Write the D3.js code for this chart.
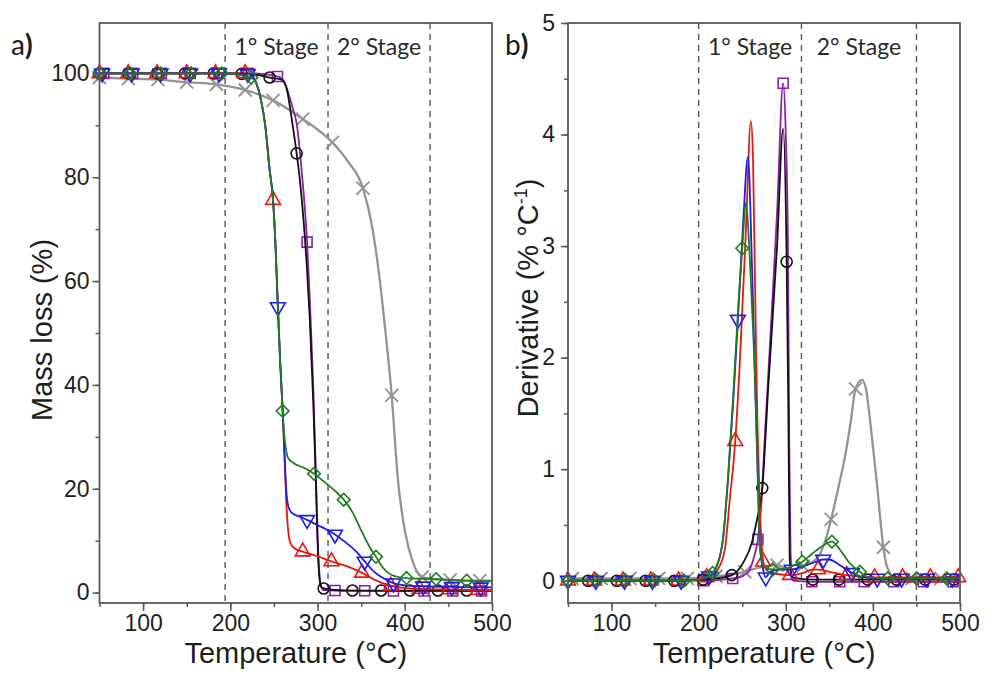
<!DOCTYPE html>
<html>
<head>
<meta charset="utf-8">
<script src="https://cdn.jsdelivr.net/npm/d3@7"></script>
<style>
  body { margin: 0; background: #fff; }
  svg { display: block; }
</style>
</head>
<body>
<svg id="chart" width="987" height="675"></svg>
<script>
// ---------- data ----------
// x ticks / y ticks
var tempTicks = [100, 200, 300, 400, 500];
var massTicks = [0, 20, 40, 60, 80, 100];
var derivTicks = [0, 1, 2, 3, 4, 5];
var stageNames = ["1° Stage", "2° Stage"];
var massStageLines = [194, 312, 429];
var derivStageLines = [200, 318, 450];

// a) mass loss curves [temperature, %]
var massBlack = [[50,100],[83,100],[116,100],[148,100],[181,100],[213,99.9],[230,99.7],[245,99.2],[259,98.8],[265,96.7],[271,90.5],[276,84.6],[280,79],[288,62],[291,53],[295,37],[298,22],[300,10],[302,3],[304,1.2],[307,0.8],[320,0.5],[340,0.4],[373,0.4],[406,0.4],[438,0.4],[471,0.4],[500,0.4]];
var massPurple = [[50,100],[55,100],[88,100],[121,100],[154,100],[187,100],[221,100],[240,99.8],[254,99.4],[258,99.1],[263,98],[268,95.4],[272,93],[276,90.4],[282,80.8],[288,67.5],[291,57],[295,40],[298,23],[300,11],[302,4],[304,1.2],[307,0.5],[320,0.4],[354,0.35],[387,0.3],[422,0.3],[455,0.3],[488,0.3],[500,0.3]];
var massRed = [[50,100],[83,100],[116,100],[150,100],[183,100],[217,100],[225,99.5],[230,98],[235,95],[240,90],[245,81.5],[249,75.6],[252,66],[254.5,55],[257,45],[260,35],[262,27],[264,18],[266,12.5],[269,9.5],[274,8.5],[283,7.9],[300,7],[316,6],[335,5],[351,3.8],[365,2.5],[384,1.3],[400,0.9],[417,0.7],[451,0.6],[484,0.5],[500,0.5]];
var massBlue = [[50,100],[53,100],[87,100],[120,100],[154,100],[187,100],[220,99.9],[225,99.5],[230,98],[235,95],[240,90],[245,81.5],[249,75.6],[252,66],[254.5,55],[257,45],[260,35],[262,27],[264,20],[266,17],[270,15.4],[280,14.6],[288,14],[300,13],[310,12.2],[320,11.2],[335,9.3],[345,7.8],[354,6],[365,4],[375,2.8],[387,1.8],[400,1.4],[421,1.2],[454,1.1],[487,1],[500,1]];
var massGreen = [[50,100],[85,100],[120,100],[155,100],[190,100],[224,99.2],[230,98],[235,95],[240,90],[245,81.5],[249,75.6],[252,66],[254.5,55],[257,45],[260,35],[262,30],[264,27.5],[266,26],[272,25],[285,24],[296,22.9],[310,21],[320,19.6],[330,17.9],[340,15.5],[350,12],[360,8.7],[367,6.9],[375,4.8],[385,3.4],[402,2.8],[436,2.6],[471,2.3],[500,2.2]];
var massGray = [[50,99.2],[83,99],[117,98.8],[150,98.3],[184,97.9],[217,96.8],[249,94.8],[283,91.2],[317,86.7],[335,83],[352,77.9],[362,71],[370,62],[378,50],[385,38],[392,22],[400,12],[409,6],[416,3.5],[420,3],[440,2.5],[452,2.4],[486,2.3],[500,2.3]];

// temperatures where a) markers sit
var massBlackMarks = [50,83,116,148,181,213,245,276,307,340,373,406,438,471];
var massPurpleMarks = [55,88,121,154,187,221,254,288,320,354,387,422,455,488];
var massRedMarks = [50,83,116,150,183,217,249,283,316,351,384,417,451,484];
var massBlueMarks = [53,87,120,154,187,220,254.5,288,320,354,387,421,454,487];
var massGreenMarks = [50,85,120,155,190,224,260,296,330,367,402,436,471];
var massGrayMarks = [50,83,117,150,184,217,249,283,317,352,385,420,452,486];

// b) derivative curves [temperature, % / °C]
var derivBlack = [[50,0],[73,0],[106,0],[139,0],[172,0],[205,0.01],[220,0.02],[238,0.05],[251,0.16],[261,0.34],[267,0.55],[273,0.83],[280,1.75],[290,3.0],[297,4.05],[301,2.86],[303,1.5],[304.5,0.2],[307,0.03],[331,0.01],[361,0.01],[394,0.01],[427,0.01],[460,0.01],[493,0.01],[500,0.01]];
var derivPurple = [[50,0],[78,0],[111,0],[144,0],[175,0],[205,0],[239,0.02],[250,0.04],[258,0.09],[263,0.2],[268,0.37],[272,0.7],[276,1.3],[281,2.0],[290,3.3],[297,4.46],[300,4.0],[302.5,3.0],[304,1.2],[305.5,0.25],[308,0],[330,-0.01],[362,-0.01],[390,-0.01],[424,-0.01],[458,-0.01],[492,-0.01],[500,-0.01]];
var derivRed = [[50,0],[80,0],[113,0],[145,0],[177,0],[209,0.03],[215,0.05],[222,0.1],[230,0.28],[236,0.75],[242,1.25],[247.5,2.0],[254,3.1],[260,4.12],[262.4,3.78],[266,2.0],[267.5,1.4],[270,0.7],[272.5,0.3],[274,0.17],[280,0.08],[290,0.06],[305,0.05],[320,0.07],[330,0.1],[337,0.1],[350,0.08],[370,0.05],[402,0.03],[434,0.03],[466,0.03],[498,0.03],[500,0.03]];
var derivBlue = [[50,0],[82,0],[115,0],[147,0],[180,0],[200,0.01],[212,0.04],[220,0.12],[228,0.38],[234,0.95],[240,1.65],[245,2.34],[251,3.2],[256.6,3.8],[261,2.88],[264.7,1.8],[268,0.9],[270.4,0.3],[274,0.1],[277,0.03],[282,0.08],[295,0.1],[307,0.1],[320,0.13],[335,0.17],[343,0.19],[350,0.19],[360,0.15],[370,0.1],[376,0.07],[390,0.03],[405,0.02],[433,0.02],[462,0.02],[491,0.02],[500,0.02]];
var derivGreen = [[50,0],[83,0],[116,0],[149,0],[183,0],[200,0.01],[216,0.07],[222,0.15],[228,0.38],[234,0.95],[240,1.7],[245,2.4],[250,2.98],[254.4,3.39],[258,3.0],[261,2.5],[264.7,1.8],[268,0.9],[270.4,0.3],[275,0.12],[285,0.1],[300,0.11],[310,0.14],[319,0.17],[330,0.24],[340,0.3],[353,0.35],[362,0.28],[372,0.17],[385,0.08],[395,0.03],[417,0.02],[450,0.02],[485,0.02],[500,0.02]];
var derivGray = [[50,0.02],[55,0.02],[88,0.02],[121,0.02],[154,0.02],[187,0.02],[220,0.04],[253,0.08],[270,0.12],[290,0.14],[305,0.1],[320,0.13],[336,0.2],[345,0.35],[352,0.55],[360,0.82],[370,1.2],[375,1.45],[380,1.72],[387.5,1.8],[392,1.72],[398,1.35],[405,0.84],[412,0.3],[416,0.13],[425,0.03],[445,0.02],[478,0.02],[500,0.02]];

var derivBlackMarks = [73,106,139,172,205,238,273,301,331,361,394,427,460,493];
var derivPurpleMarks = [78,111,144,175,205,239,268,297,330,362,390,424,458,492];
var derivRedMarks = [50,80,113,145,177,209,242,274,305,337,370,402,434,466,498];
var derivBlueMarks = [50,82,115,147,180,212,245,277,307,343,376,405,433,462,491];
var derivGreenMarks = [50,83,116,149,183,216,250,285,319,353,385,417,450,485];
var derivGrayMarks = [55,88,121,154,187,220,253,290,320,352,380,412,445,478];

// ---------- drawing ----------
var svg = d3.select("#chart");
var axisColor = "#5a5a5a";
var textColor = "#1e1e1e";

var colors = {
    gray: "#939393", purple: "#8d1ea8", black: "#111111",
    red: "#e8170f", blue: "#1c1ce4", green: "#1f7d1f"
};

// marker shapes
function markerPath(kind) {
    if (kind == "circle") return d3.symbol().type(d3.symbolCircle).size(95)();
    if (kind == "square") return d3.symbol().type(d3.symbolSquare).size(100)();
    if (kind == "up" || kind == "down") return d3.symbol().type(d3.symbolTriangle).size(95)();
    if (kind == "diamond") return d3.symbol().type(d3.symbolSquare).size(80)();
    // cross "x"
    var s = 6.5;
    return "M" + (-s) + "," + (-s) + "L" + s + "," + s + "M" + (-s) + "," + s + "L" + s + "," + (-s);
}

function drawPanel(p) {
    var g = svg.append("g");

    var x = d3.scaleLinear().domain([50, 500]).range(p.xRange);
    var y = d3.scaleLinear().domain(p.yDomain).range([603, 23]);

    // stage dashed lines
    g.selectAll(".stage")
        .data(p.stageLines)
        .enter()
        .append("line")
            .attr("x1", function(d) { return x(d); })
            .attr("x2", function(d) { return x(d); })
            .attr("y1", 23)
            .attr("y2", 603)
            .style("stroke", "#555")
            .style("stroke-width", 1.4)
            .style("stroke-dasharray", "6,5");

    // stage labels
    for (var i = 0; i < stageNames.length; i++) {
        g.append("text")
            .attr("x", (x(p.stageLines[i]) + x(p.stageLines[i+1])) / 2)
            .attr("y", 55)
            .attr("text-anchor", "middle")
            .style("font-family", "Lato, 'Open Sans', sans-serif")
            .style("font-size", "23px")
            .style("fill", "#2a2a2a")
            .text(stageNames[i]);
    }

    // series
    var line = d3.line()
        .curve(d3.curveMonotoneX)
        .x(function(d) { return x(d[0]); })
        .y(function(d) { return y(d[1]); });

    p.series.forEach(function(s) {
        var sg = g.append("g");
        sg.append("path")
            .datum(s.data)
            .attr("fill", "none")
            .attr("stroke", s.color)
            .attr("stroke-width", s.width || 1.8)
            .attr("stroke-linejoin", "round")
            .attr("d", line);

        var pts = s.marks.map(function(t) {
            return s.data.find(function(d) { return d[0] === t; });
        }).filter(function(d) { return d; });

        sg.selectAll(".mk")
            .data(pts)
            .enter()
            .append("path")
                .attr("d", markerPath(s.shape))
                .attr("transform", function(d) {
                    var r = s.shape == "down" ? 180 : (s.shape == "diamond" ? 45 : 0);
                    return "translate(" + x(d[0]) + "," + y(d[1]) + ") rotate(" + r + ")";
                })
                .attr("fill", "none")
                .attr("stroke", s.color)
                .attr("stroke-width", s.shape == "x" ? 1.9 : 1.6);
    });

    // frame
    g.append("rect")
        .attr("x", p.xRange[0])
        .attr("y", 23)
        .attr("width", p.xRange[1] - p.xRange[0])
        .attr("height", 580)
        .attr("fill", "none")
        .attr("stroke", axisColor)
        .attr("stroke-width", 1.8);

    // x axis
    var xMinor = d3.range(50, 501, 50);
    g.append("g")
        .attr("transform", "translate(0,603)")
        .call(d3.axisBottom(x).tickValues(xMinor).tickSize(4).tickFormat(""))
        .call(function(a) { a.select(".domain").remove(); a.selectAll("line").attr("stroke", axisColor).attr("stroke-width", 1.5); });
    g.append("g")
        .attr("transform", "translate(0,603)")
        .call(d3.axisBottom(x).tickValues(tempTicks).tickSize(8).tickPadding(4).tickFormat(d3.format("d")))
        .call(function(a) {
            a.select(".domain").remove();
            a.selectAll("line").attr("stroke", axisColor).attr("stroke-width", 1.5);
            a.selectAll("text").style("font-family", "'Liberation Sans', Arial, sans-serif").style("font-size", "23px").style("fill", textColor);
        });

    // y axis
    g.append("g")
        .attr("transform", "translate(" + p.xRange[0] + ",0)")
        .call(d3.axisLeft(y).tickValues(p.yMinor).tickSize(4).tickFormat(""))
        .call(function(a) { a.select(".domain").remove(); a.selectAll("line").attr("stroke", axisColor).attr("stroke-width", 1.5); });
    g.append("g")
        .attr("transform", "translate(" + p.xRange[0] + ",0)")
        .call(d3.axisLeft(y).tickValues(p.yTicks).tickSize(7).tickPadding(p.yPad).tickFormat(d3.format("d")))
        .call(function(a) {
            a.select(".domain").remove();
            a.selectAll("line").attr("stroke", axisColor).attr("stroke-width", 1.5);
            a.selectAll("text").style("font-family", "'Liberation Sans', Arial, sans-serif").style("font-size", "23px").style("fill", textColor);
        });

    // x title
    g.append("text")
        .attr("x", (p.xRange[0] + p.xRange[1]) / 2)
        .attr("y", 663)
        .attr("text-anchor", "middle")
        .style("font-family", "'Liberation Sans', Arial, sans-serif")
        .style("font-size", "29px")
        .style("fill", textColor)
        .text("Temperature (°C)");

    // y title
    var yt = g.append("text")
        .attr("transform", "translate(" + p.yTitlePos[0] + "," + p.yTitlePos[1] + ") rotate(-90)")
        .attr("text-anchor", "middle")
        .style("font-family", "'Liberation Sans', Arial, sans-serif")
        .style("font-size", "29px")
        .style("fill", textColor);
    p.yTitle(yt);

    // panel letter
    var lt = g.append("text")
        .attr("x", p.letterX)
        .attr("y", 55)
        .style("font-family", "Lato, 'Open Sans', sans-serif")
        .style("font-size", "28px")
        .style("fill", "#1a1a1a");
    lt.append("tspan").text(p.letter);
    lt.append("tspan").style("font-weight", "bold").text(")");
}

drawPanel({
    xRange: [99.5, 492],
    yDomain: [-2, 109.7],
    yTicks: massTicks,
    yMinor: d3.range(0, 101, 10),
    yPad: 3,
    stageLines: massStageLines,
    yTitlePos: [52, 330],
    yTitle: function(t) { t.text("Mass loss (%)"); },
    letter: "a",
    letterX: 11,
    series: [
        { data: massGray, marks: massGrayMarks, color: colors.gray, shape: "x", width: 2.3 },
        { data: massPurple, marks: massPurpleMarks, color: colors.purple, shape: "square" },
        { data: massBlack, marks: massBlackMarks, color: colors.black, shape: "circle" },
        { data: massRed, marks: massRedMarks, color: colors.red, shape: "up" },
        { data: massBlue, marks: massBlueMarks, color: colors.blue, shape: "down" },
        { data: massGreen, marks: massGreenMarks, color: colors.green, shape: "diamond" }
    ]
});

drawPanel({
    xRange: [568, 960],
    yDomain: [-0.2, 5],
    yTicks: derivTicks,
    yMinor: d3.range(0, 5.01, 0.5),
    yPad: 6,
    stageLines: derivStageLines,
    yTitlePos: [538, 298],
    yTitle: function(t) {
        t.append("tspan").text("Derivative (% °C");
        t.append("tspan").attr("dy", -11).style("font-size", "18px").text("-1");
        t.append("tspan").attr("dy", 11).text(")");
    },
    letter: "b",
    letterX: 505,
    series: [
        { data: derivGray, marks: derivGrayMarks, color: colors.gray, shape: "x", width: 2.3 },
        { data: derivPurple, marks: derivPurpleMarks, color: colors.purple, shape: "square" },
        { data: derivBlack, marks: derivBlackMarks, color: colors.black, shape: "circle" },
        { data: derivRed, marks: derivRedMarks, color: colors.red, shape: "up" },
        { data: derivBlue, marks: derivBlueMarks, color: colors.blue, shape: "down" },
        { data: derivGreen, marks: derivGreenMarks, color: colors.green, shape: "diamond" }
    ]
});
</script>
</body>
</html>
